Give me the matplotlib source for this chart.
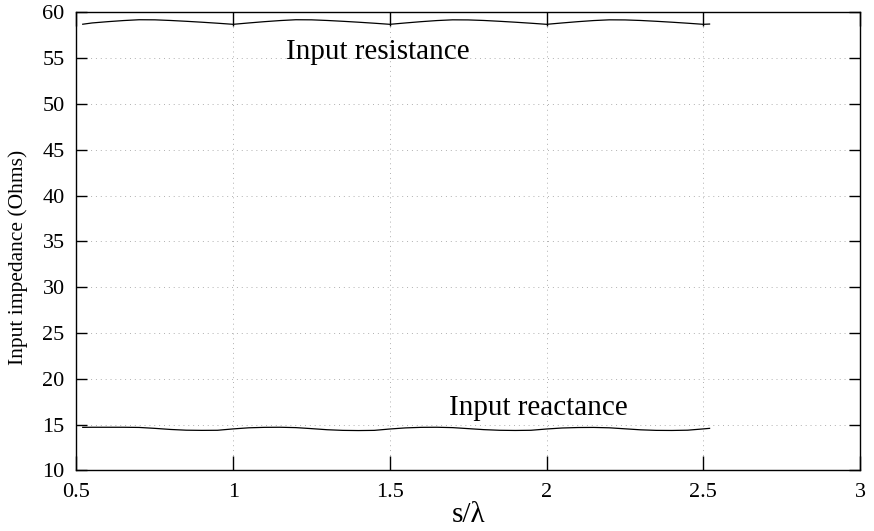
import numpy as np
import matplotlib
matplotlib.use("Agg")
import matplotlib.pyplot as plt

plt.rcParams["font.family"] = ["Liberation Serif", "DejaVu Serif"]

# spacing in wavelengths
s_lam = [0.52, 0.55, 0.60, 0.65, 0.70, 0.75, 0.80, 0.85, 0.90, 0.95,
         1.00, 1.05, 1.10, 1.15, 1.20, 1.25, 1.30, 1.35, 1.40, 1.45,
         1.50, 1.55, 1.60, 1.65, 1.70, 1.75, 1.80, 1.85, 1.90, 1.95,
         2.00, 2.05, 2.10, 2.15, 2.20, 2.25, 2.30, 2.35, 2.40, 2.45,
         2.50, 2.52]

# input resistance (Ohms)
r_in = [58.70, 58.84, 58.98, 59.10, 59.19, 59.18, 59.11, 59.02, 58.92, 58.81,
        58.69, 58.84, 58.98, 59.10, 59.19, 59.18, 59.11, 59.02, 58.92, 58.81,
        58.69, 58.84, 58.98, 59.10, 59.18, 59.17, 59.11, 59.02, 58.92, 58.81,
        58.69, 58.84, 58.98, 59.10, 59.18, 59.17, 59.11, 59.02, 58.92, 58.81,
        58.69, 58.72]

# input reactance (Ohms)
x_in = [14.69, 14.70, 14.70, 14.70, 14.68, 14.58, 14.46, 14.38, 14.36, 14.37,
        14.52, 14.64, 14.69, 14.70, 14.66, 14.55, 14.43, 14.36, 14.34, 14.36,
        14.51, 14.63, 14.69, 14.70, 14.66, 14.55, 14.44, 14.37, 14.35, 14.37,
        14.51, 14.62, 14.67, 14.68, 14.64, 14.53, 14.42, 14.36, 14.35, 14.38,
        14.52, 14.58]

x_ticks = [0.5, 1, 1.5, 2, 2.5, 3]
x_ticklabels = ["0.5", "1", "1.5", "2", "2.5", "3"]
y_ticks = [10, 15, 20, 25, 30, 35, 40, 45, 50, 55, 60]

fig = plt.figure(figsize=(8.74, 5.31), dpi=100)
ax = fig.add_axes([0.0875, 0.1143, 0.8965, 0.8625])

ax.plot(s_lam, r_in, color="black", lw=0.9)
ax.plot(s_lam, x_in, color="black", lw=0.9)

ax.set_xlim(0.5, 3)
ax.set_ylim(10, 60)
ax.set_xticks(x_ticks)
ax.set_xticklabels(x_ticklabels)
ax.set_yticks(y_ticks)
ax.grid(True, linestyle=(0, (1, 4)), color="#b0b0b0", lw=0.7)
ax.tick_params(direction="in", top=True, right=True, labelsize=16,
               width=1.0, color="black")
ax.tick_params(axis="x", length=10, pad=9)
ax.tick_params(axis="y", length=8, pad=8.5)
for sp in ax.spines.values():
    sp.set_linewidth(1.0)

ax.text(1.17, 54.9, "Input resistance", fontsize=21, ha="left", va="baseline")
ax.text(1.687, 16.0, "Input reactance", fontsize=21, ha="left", va="baseline")

ax.set_xlabel("s/λ", fontsize=21, labelpad=0)
ax.set_ylabel("Input impedance (Ohms)", fontsize=15.5)
ax.yaxis.set_label_coords(-0.062, 0.466)

fig.savefig("out.png", dpi=100)
